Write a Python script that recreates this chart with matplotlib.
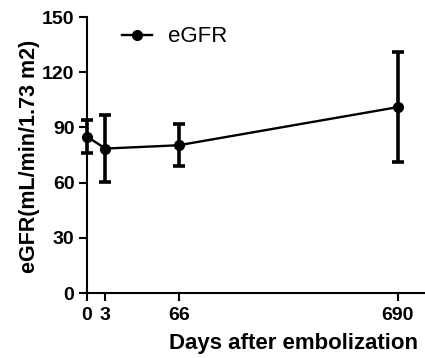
"""eGFR over days after embolization (mean with error bars)."""

import matplotlib

matplotlib.use("Agg")
import matplotlib.pyplot as plt
import numpy as np

days = [0, 3, 66, 690]
egfr_mean = [85, 78.5, 80.3, 101]
egfr_err = [9, 18, 11.4, 30]
x_ticks = [0, 3, 66, 690]
y_ticks = [0, 30, 60, 90, 120, 150]

POWER = 0.52


def fwd(v):
    v = np.asarray(v, dtype=float)
    return np.sign(v) * np.abs(v) ** POWER


def inv(v):
    v = np.asarray(v, dtype=float)
    return np.sign(v) * np.abs(v) ** (1.0 / POWER)


plt.rcParams.update(
    {
        "font.family": ["Liberation Sans", "DejaVu Sans"],
        "axes.linewidth": 1.5,
        "axes.spines.top": False,
        "axes.spines.right": False,
    }
)

fig = plt.figure(figsize=(4.25, 3.58), dpi=100)
ax = fig.add_axes([87 / 425, 1 - 293 / 358, 338 / 425, 276 / 358])

eb = ax.errorbar(
    days,
    egfr_mean,
    yerr=egfr_err,
    color="black",
    lw=1.7,
    elinewidth=2.6,
    capsize=4,
    capthick=2.6,
    marker="o",
    markersize=7,
    clip_on=False,
    zorder=3,
)
for art in (*eb[1], *eb[2]):
    art.set_clip_on(False)

ax.set_xscale("function", functions=(fwd, inv))
ax.set_xlim(0, 812)
ax.set_ylim(0, 150)
ax.set_xticks(x_ticks)
ax.set_yticks(y_ticks)
ax.tick_params(length=6, width=1.5, pad=3, labelsize=14)
ax.tick_params(axis="x", pad=4)
for lab in ax.get_xticklabels() + ax.get_yticklabels():
    lab.set_fontweight("bold")

ax.set_xlabel("Days after embolization", fontsize=16, fontweight="bold", ha="right")
ax.xaxis.set_label_coords(0.979, -0.145)
ax.set_ylabel("eGFR(mL/min/1.73 m2)", fontsize=15.5, fontweight="bold")
ax.yaxis.set_label_coords(-0.14, 0.495)

ax.legend(
    handles=[eb[0]],
    labels=["eGFR"],
    loc="center left",
    bbox_to_anchor=(122 / 425, 1 - 37 / 358),
    bbox_transform=fig.transFigure,
    frameon=False,
    fontsize=16,
    handlelength=1.35,
    handletextpad=0.7,
    borderpad=0,
    borderaxespad=0,
)

fig.savefig("out.png", dpi=100)
